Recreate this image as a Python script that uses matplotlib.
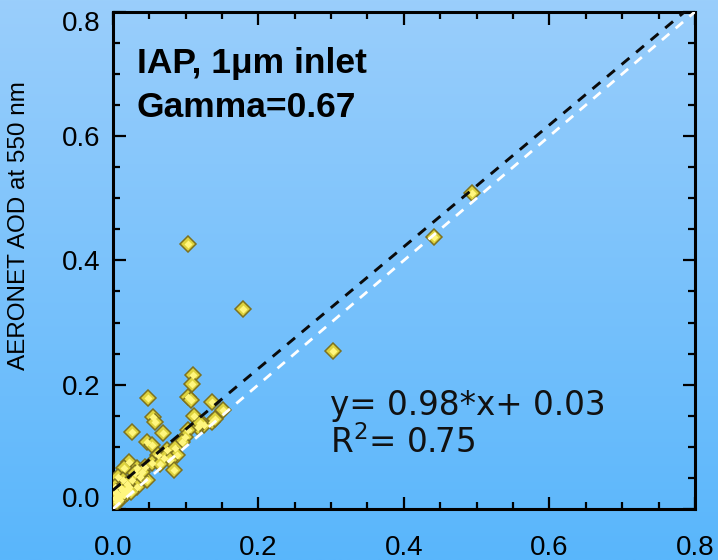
import matplotlib
matplotlib.use("Agg")
import numpy as np
import matplotlib.pyplot as plt
from matplotlib.transforms import ScaledTranslation

plt.rcParams["font.family"] = ["Liberation Sans", "DejaVu Sans"]

# IAP retrieved AOD (x) vs AERONET AOD at 550 nm (y)
iap_aod = [
    0.104, 0.179, 0.302, 0.441, 0.493, 0.110,
    0.109, 0.048, 0.103, 0.107, 0.137, 0.151, 0.111, 0.055, 0.058,
    0.136, 0.126, 0.117, 0.026, 0.069, 0.103, 0.099, 0.095, 0.047,
    0.054, 0.074, 0.085, 0.062, 0.071, 0.088, 0.078, 0.084, 0.023,
    0.033, 0.044, 0.054, 0.016, 0.047, 0.037, 0.007, 0.014, 0.027,
    0.003, 0.012, 0.023, 0.005, 0.016, 0.003, 0.010, 0.019, 0.034,
    0.030, 0.140, 0.120, 0.008, 0.013, 0.020, 0.006, 0.011, 0.004,
    0.018, 0.025, 0.040, 0.065,
]
aeronet_aod = [
    0.427, 0.322, 0.254, 0.438, 0.509, 0.216,
    0.201, 0.179, 0.180, 0.176, 0.172, 0.159, 0.150, 0.148, 0.140,
    0.140, 0.135, 0.132, 0.124, 0.122, 0.127, 0.116, 0.108, 0.108,
    0.103, 0.095, 0.098, 0.087, 0.082, 0.087, 0.079, 0.063, 0.076,
    0.066, 0.068, 0.074, 0.066, 0.047, 0.052, 0.052, 0.047, 0.047,
    0.035, 0.034, 0.035, 0.026, 0.023, 0.018, 0.015, 0.026, 0.035,
    0.058, 0.145, 0.138, 0.020, 0.030, 0.040, 0.012, 0.022, 0.028,
    0.030, 0.028, 0.060, 0.072,
]

fit_slope = 0.98
fit_offset = 0.03
r_squared = 0.75

title_lines = ["IAP, 1\u03bcm inlet", "Gamma=0.67"]
tick_values = [0.0, 0.2, 0.4, 0.6, 0.8]
tick_labels = ["0.0", "0.2", "0.4", "0.6", "0.8"]

fig = plt.figure(figsize=(7.18, 5.6), dpi=100)

# soft blue vertical gradient behind everything
bg = fig.add_axes([0, 0, 1, 1], zorder=-10)
grad = np.linspace(0, 1, 256).reshape(-1, 1)
top = np.array([0x9a, 0xce, 0xfb]) / 255
bottom = np.array([0x59, 0xb6, 0xfc]) / 255
img = top + (bottom - top) * grad[:, :, None]
bg.imshow(img, aspect="auto", extent=[0, 1, 0, 1])
bg.axis("off")

ax = fig.add_axes([0.157, 0.091, 0.811, 0.888])
ax.set_facecolor("none")
ax.set_xlim(0, 0.8)
ax.set_ylim(0, 0.8)

# scatter: diamonds with darker edge and a light centre
ax.plot(iap_aod, aeronet_aod, "D", ms=8.5, mfc="#ddd23e", mec="#7d7220",
        mew=1.1, zorder=3, linestyle="none")
ax.plot(iap_aod, aeronet_aod, "D", ms=4.5, mfc="#fff67e", mec="none",
        zorder=3.5, linestyle="none")

xx = np.array([0.0, 0.8])
ax.plot(xx, xx, color="white", lw=2.0, dashes=(3.5, 3.0), zorder=4)
ax.plot(xx, fit_slope * xx + fit_offset, color="#0a0a0a", lw=2.1,
        dashes=(3.5, 3.0), zorder=4)

ax.text(0.033, 0.702, title_lines[0], fontsize=25.5, fontweight="bold",
        va="baseline", ha="left")
ax.text(0.033, 0.631, title_lines[1], fontsize=25.5, fontweight="bold",
        va="baseline", ha="left")

ax.text(0.298, 0.151, f"y= {fit_slope:.2f}*x+ {fit_offset:.2f}",
        fontsize=23.5, family="DejaVu Sans", va="baseline", color="#111111")
ax.text(0.298, 0.090, rf"R$^2$= {r_squared:.2f}",
        fontsize=23.5, family="DejaVu Sans", va="baseline", color="#111111")

ax.set_ylabel("AERONET AOD at 550 nm", fontsize=17.5)
ax.yaxis.set_label_coords(-0.142, 0.571)

ax.set_xticks(tick_values)
ax.set_xticklabels(tick_labels)
ax.set_yticks(tick_values)
ax.set_yticklabels(tick_labels)
ax.set_xticks(np.arange(0, 0.801, 0.05), minor=True)
ax.set_yticks(np.arange(0, 0.801, 0.05), minor=True)
ax.tick_params(which="both", direction="in", top=True, right=True,
               width=1.6, labelsize=20)
ax.tick_params(which="major", length=9)
ax.tick_params(which="minor", length=5)
ax.tick_params(axis="x", pad=19)
ax.tick_params(axis="y", pad=9)
for s in ax.spines.values():
    s.set_linewidth(2.2)

# nudge the end labels of the y axis inward
ylabels = ax.get_yticklabels()
ylabels[0].set_transform(ylabels[0].get_transform() +
                         ScaledTranslation(0, 9 / 72, fig.dpi_scale_trans))
ylabels[-1].set_transform(ylabels[-1].get_transform() +
                          ScaledTranslation(0, -7 / 72, fig.dpi_scale_trans))

fig.savefig("out.png", dpi=100)
